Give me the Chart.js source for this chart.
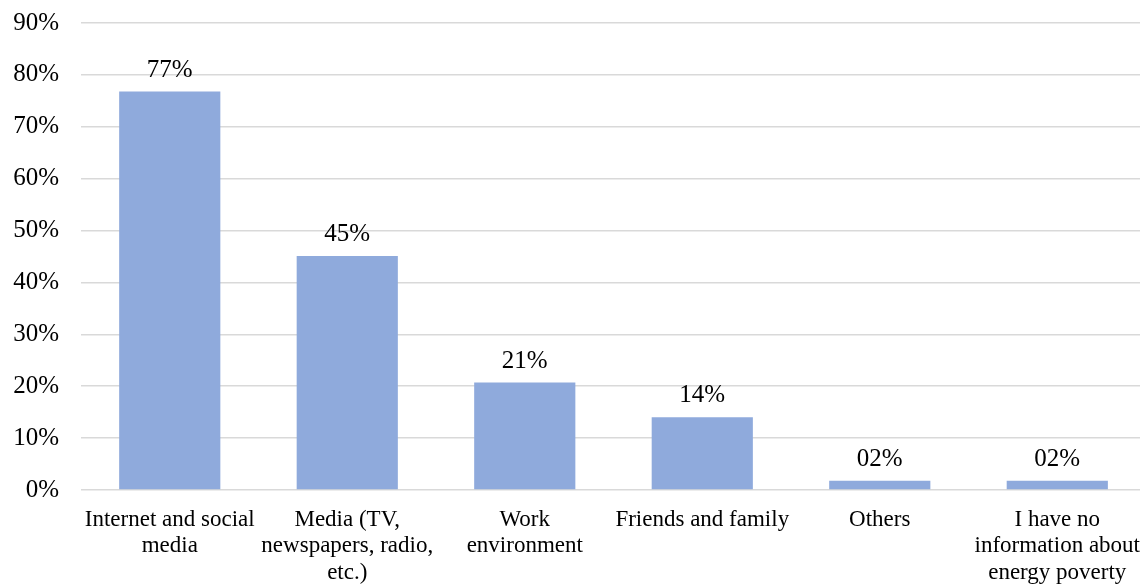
<!DOCTYPE html>
<html>
<head>
<meta charset="utf-8">
<script src="https://cdn.jsdelivr.net/npm/chart.js@4"></script>
<style>
  html, body { margin: 0; padding: 0; background: #fff; overflow: hidden; }
  /* canvas a little taller than the window, pulled up so the 90% line sits near the top edge */
  #wrap { width: 1148px; height: 600px; margin-top: -14px; }
</style>
</head>
<body>
<div id="wrap"><canvas id="chart"></canvas></div>
<script>
// categories, each one split into its printed lines
const categories = [
    ['Internet and social', 'media'],
    ['Media (TV,', 'newspapers, radio,', 'etc.)'],
    ['Work', 'environment'],
    ['Friends and family'],
    ['Others'],
    ['I have no', 'information about', 'energy poverty']
];
const shares = [76.8, 45.1, 20.7, 14.0, 1.8, 1.8];
const yTicks = [0, 10, 20, 30, 40, 50, 60, 70, 80, 90];

const FONT = "'Liberation Serif', 'Times New Roman', serif";

// labels drawn above each bar, e.g. "77%", "02%"
const barLabels = {
    id: 'barLabels',
    afterDatasetsDraw(chart) {
        const ctx = chart.ctx;
        const meta = chart.getDatasetMeta(0);
        ctx.save();
        ctx.font = '25px ' + FONT;
        ctx.fillStyle = '#000';
        ctx.textAlign = 'center';
        ctx.textBaseline = 'bottom';
        meta.data.forEach((bar, i) => {
            const txt = String(Math.round(shares[i])).padStart(2, '0') + '%';
            ctx.fillText(txt, bar.x, bar.y - 9);
        });
        ctx.restore();
    }
};

new Chart(document.getElementById('chart'), {
    type: 'bar',
    data: {
        labels: categories,
        datasets: [{
            data: shares,
            backgroundColor: '#8faadc',
            borderWidth: 0,
            categoryPercentage: 1,
            barPercentage: 0.57
        }]
    },
    options: {
        responsive: true,
        maintainAspectRatio: false,
        animation: false,
        layout: { padding: 0 },
        plugins: {
            legend: { display: false },
            tooltip: { enabled: false }
        },
        scales: {
            x: {
                grid: { display: false },
                border: { display: false },
                ticks: {
                    color: '#000',
                    font: { family: FONT, size: 23, lineHeight: 1.17 },
                    padding: 8,
                    maxRotation: 0,
                    autoSkip: false
                },
                afterFit(scale) { scale.height = 96; }
            },
            y: {
                min: 0,
                max: 90,
                afterBuildTicks(scale) {
                    scale.ticks = yTicks.map(v => ({ value: v }));
                },
                grid: { color: '#d9d9d9', lineWidth: 1.5, drawTicks: false },
                border: { display: false },
                ticks: {
                    color: '#000',
                    font: { family: FONT, size: 25 },
                    padding: 22,
                    callback: v => v + '%'
                },
                afterFit(scale) { scale.width = 81; }
            }
        }
    },
    plugins: [barLabels]
});
</script>
</body>
</html>
